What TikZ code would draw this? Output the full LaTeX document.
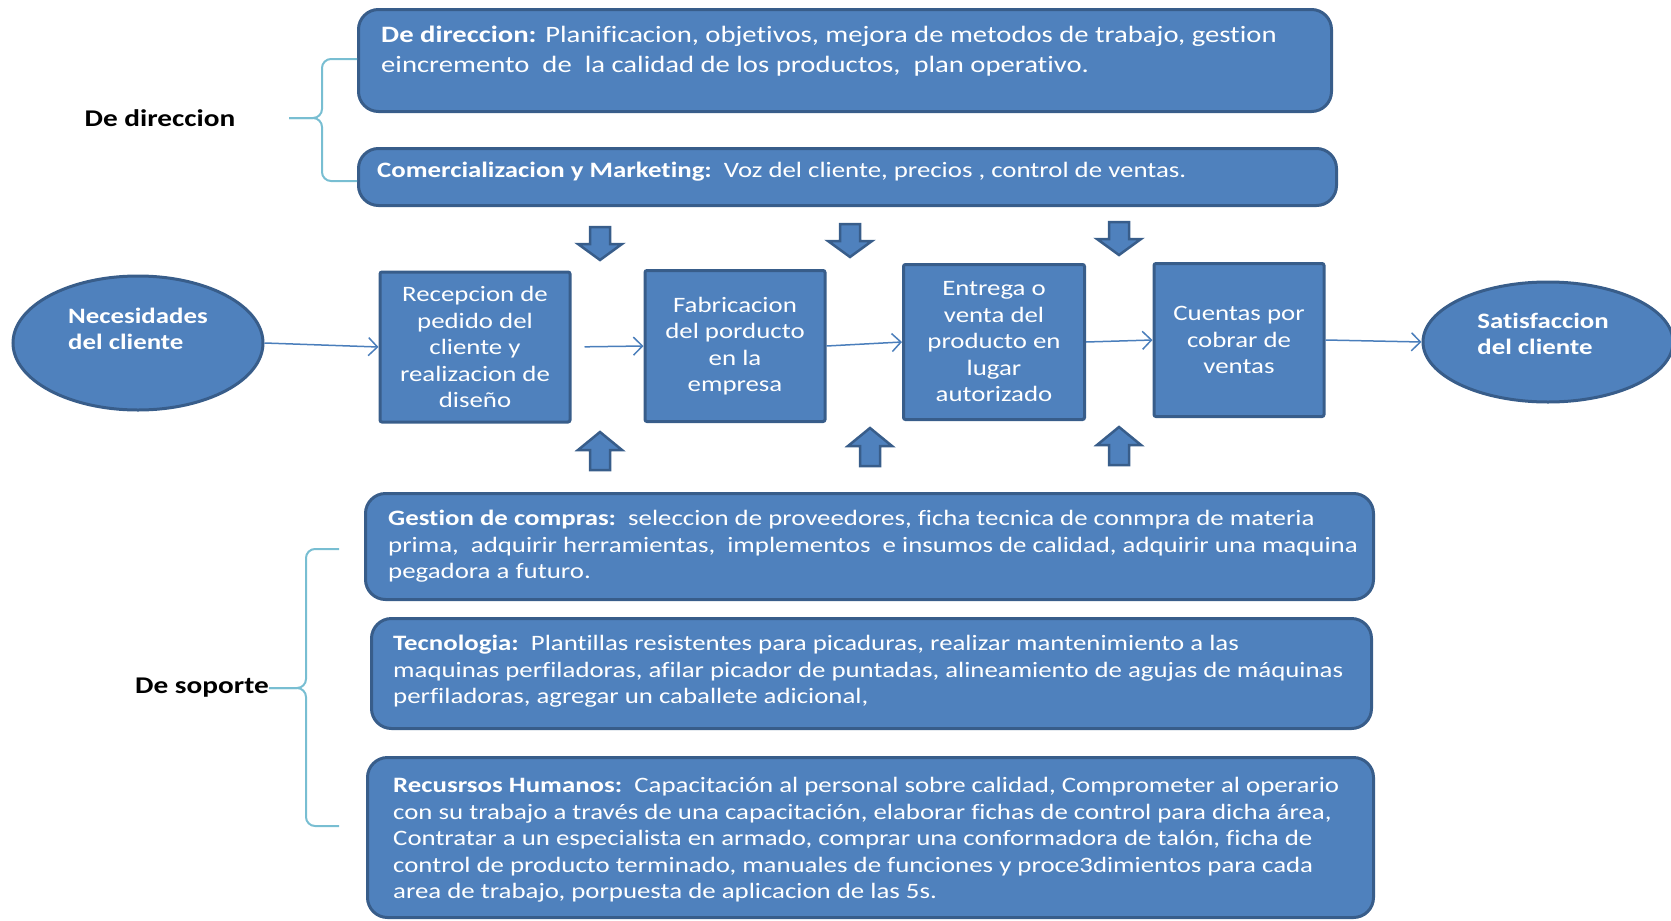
\documentclass[tikz,border=0pt]{standalone}
\usepackage{fontspec}
\setmainfont[FakeStretch=1.22,Ligatures=NoCommon]{Carlito}
\usetikzlibrary{shapes.geometric,arrows.meta}
\definecolor{boxfill}{HTML}{4F81BD}
\definecolor{boxline}{HTML}{385D8A}
\definecolor{flowline}{HTML}{4A7EBB}
\definecolor{bracecol}{RGB}{120,190,210}
\tikzset{
  panel/.style={draw=boxline, fill=boxfill, line width=3pt, rounded corners=20pt, inner sep=0pt, anchor=north west},
  paneltext/.style={text=white, align=left, anchor=north west, inner sep=0pt, font=\fontsize{22}{26.6}\selectfont},
  stage/.style={draw=boxline, fill=boxfill, line width=3pt, rounded corners=2pt, text=white, align=center, inner sep=0pt, font=\fontsize{22}{26.5}\selectfont},
  goal/.style={ellipse, draw=boxline, fill=boxfill, line width=3pt, inner sep=0pt},
  goaltext/.style={text=white, align=left, inner sep=0pt, font=\bfseries\fontsize{22}{26}\selectfont},
  flow/.style={draw=flowline, line width=1.5pt, -{Straight Barb[length=9pt,width=18pt]}},
  brace/.style={draw=bracecol, line width=2pt, rounded corners=9pt},
  side/.style={inner sep=0pt, font=\bfseries\fontsize{24}{28}\selectfont},
  blockarrow/.style={draw=boxline, fill=boxfill, line width=2.5pt, line join=miter}
}
\begin{document}
\begin{tikzpicture}[x=1pt,y=-1pt]
\useasboundingbox (0,0) rectangle (1671,921);
% direccion
\node[panel, minimum width=973pt, minimum height=102pt] (dirbox) at (357,8) {};
\node[paneltext, font=\fontsize{23.5}{30}\selectfont] (dirtxt) at (381,26) {\textbf{De direccion:} Planificacion, objetivos, mejora de metodos\ de trabajo,\ gestion\\eincremento\ \ de\ \ la calidad de los productos,\ \ plan operativo.};
\node[panel, minimum width=978pt, minimum height=57pt] (combox) at (357,147) {};
\node[paneltext] (comtxt) at (377,162) {\textbf{Comercializacion y Marketing:}\ \ Voz del cliente, precios , control de ventas.};
\node[side] (dirlabel) at (160,118) {De direccion};
\draw[brace] (357,59) -- (322,59) -- (322,118) -- (289,118);
\draw[brace] (289,118) -- (322,118) -- (322,181) -- (357,181);
% cadena de valor
\node[goal, minimum width=250pt, minimum height=134pt] (need) at (138,343) {};
\node[goaltext] (needtxt) at (138,329) {Necesidades\\del cliente};
\node[stage, minimum width=190pt, minimum height=150pt] (recep) at (475,347) {Recepcion de\\pedido del\\cliente y\\realizacion de\\diseño};
\node[stage, minimum width=180pt, minimum height=151pt] (fabric) at (735,346) {Fabricacion\\del porducto\\en la\\empresa};
\node[stage, minimum width=181pt, minimum height=155pt] (entrega) at (994,342) {Entrega o\\venta del\\producto en\\lugar\\autorizado};
\node[stage, minimum width=170pt, minimum height=153pt] (cuentas) at (1239,340) {Cuentas por\\cobrar de\\ventas};
\node[goal, minimum width=250pt, minimum height=120pt] (satis) at (1548,342) {};
\node[goaltext] (satistxt) at (1543,334) {Satisfaccion\\del cliente};
\draw[flow] (need.east) -- (recep.west);
\draw[flow, shorten <=13pt] (recep.east) -- (fabric.west);
\draw[flow] (fabric.east) -- (entrega.west);
\draw[flow] (entrega.east) -- (cuentas.west);
\draw[flow] (cuentas.east) -- (satis.west);
\foreach \ax/\ay in {600/227, 850/224, 1119/222}
  \filldraw[blockarrow] (\ax-10,\ay) -- (\ax+10,\ay) -- (\ax+10,\ay+17) -- (\ax+22,\ay+17) -- (\ax,\ay+33) -- (\ax-22,\ay+17) -- (\ax-10,\ay+17) -- cycle;
\foreach \ax/\ay in {600/470, 870/466, 1119/465}
  \filldraw[blockarrow] (\ax-10,\ay) -- (\ax+10,\ay) -- (\ax+10,\ay-20) -- (\ax+22,\ay-20) -- (\ax,\ay-38) -- (\ax-22,\ay-20) -- (\ax-10,\ay-20) -- cycle;
% soporte
\node[panel, minimum width=1008pt, minimum height=106pt] (compbox) at (364,492) {};
\node[paneltext] (comptxt) at (388,510) {\textbf{Gestion de compras:}\ \ seleccion de proveedores, ficha tecnica de conmpra de materia\\prima,\ \ adquirir herramientas,\ \ implementos\ \ e insumos de calidad, adquirir una maquina\\pegadora a futuro.};
\node[panel, minimum width=1000pt, minimum height=110pt] (tecbox) at (370,617) {};
\node[paneltext] (tectxt) at (393,635) {\textbf{Tecnologia:}\ \ Plantillas resistentes para picaduras, realizar mantenimiento a las\\maquinas perfiladoras, afilar picador de puntadas, alineamiento de agujas de máquinas\\perfiladoras, agregar un caballete adicional,};
\node[panel, minimum width=1006pt, minimum height=160pt] (rhbox) at (366,756) {};
\node[paneltext] (rhtxt) at (393,777) {\textbf{Recusrsos Humanos:}\ \ Capacitación al personal sobre calidad, Comprometer al operario\\con su trabajo a través de una capacitación, elaborar fichas de control para dicha área,\\Contratar a un especialista en armado, comprar una conformadora de talón, ficha de\\control de producto terminado, manuales de funciones y proce3dimientos para cada\\area de trabajo, porpuesta de aplicacion de las 5s.};
\node[side] (suplabel) at (202,688) {De soporte};
\draw[brace] (339,549) -- (306,549) -- (306,688) -- (suplabel.east);
\draw[brace] (suplabel.east) -- (306,688) -- (306,826) -- (339,826);
\end{tikzpicture}
\end{document}
